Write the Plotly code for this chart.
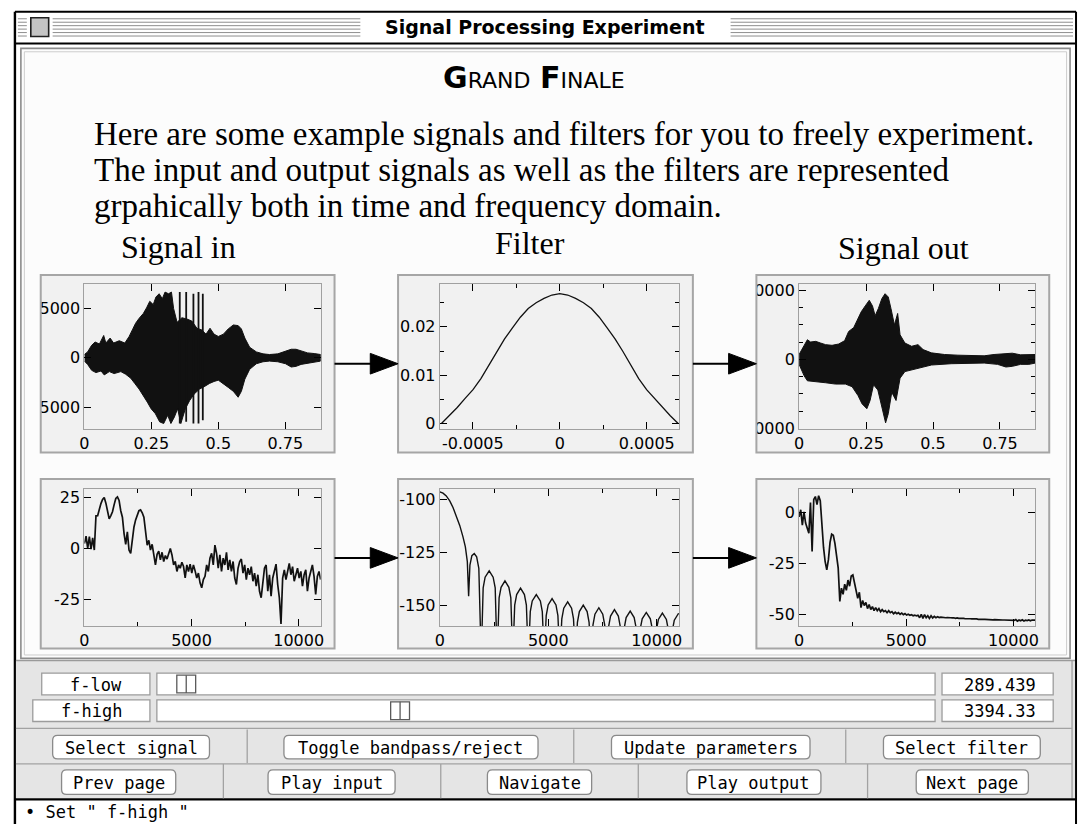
import plotly.graph_objects as go

W, H = 1082, 833

# ---------------------------------------------------------------- data
# Input signal, time domain: upper and lower envelope of the waveform
in_up_t = [0.000, 0.012, 0.027, 0.040, 0.056, 0.072, 0.080, 0.096, 0.109, 0.130,
           0.151, 0.167, 0.179, 0.191, 0.204, 0.220, 0.232, 0.244, 0.257, 0.267,
           0.279, 0.291, 0.301, 0.314, 0.325, 0.333, 0.346, 0.364, 0.383, 0.401,
           0.420, 0.438, 0.454, 0.469, 0.484, 0.500, 0.519, 0.537, 0.556, 0.574,
           0.586, 0.599, 0.617, 0.642, 0.667, 0.691, 0.722, 0.751, 0.772, 0.790,
           0.809, 0.833, 0.858, 0.882]
in_up_v = [333, 600, 1267, 1600, 1400, 2267, 1500, 2000, 1500, 1733,
           1500, 2167, 2833, 3500, 4000, 4500, 5067, 5733, 5400, 6167,
           6500, 6000, 6667, 6500, 6667, 5000, 3600, 4067, 3933, 3733,
           3000, 2833, 2400, 3000, 2400, 2167, 2400, 2933, 3333, 3267,
           2933, 2000, 1067, 600, 400, 333, 400, 667, 867, 867,
           733, 500, 433, 333]
in_lo_t = [0.000, 0.012, 0.027, 0.043, 0.062, 0.074, 0.093, 0.111, 0.136, 0.154,
           0.173, 0.188, 0.204, 0.220, 0.235, 0.249, 0.265, 0.281, 0.296, 0.311,
           0.323, 0.336, 0.348, 0.360, 0.377, 0.393, 0.410, 0.430, 0.447, 0.467,
           0.484, 0.500, 0.519, 0.537, 0.556, 0.574, 0.586, 0.599, 0.617, 0.642,
           0.667, 0.691, 0.722, 0.751, 0.772, 0.790, 0.809, 0.833, 0.858, 0.882]
in_lo_v = [-333, -667, -1267, -1500, -1333, -1733, -1400, -1600, -1400, -1667,
           -2067, -2600, -3167, -3833, -4500, -5167, -5667, -6500, -6667, -5833,
           -6667, -6000, -5167, -6667, -5167, -4333, -3667, -3167, -2933, -2600,
           -2400, -2267, -2600, -3000, -3400, -4000, -3400, -2167, -1167, -600,
           -400, -333, -400, -600, -933, -867, -667, -500, -433, -333]
# isolated full-scale swings in the input
in_spike_t = [0.356, 0.380, 0.407, 0.426, 0.442]
in_spike_hi = [6667, 6667, 6500, 6667, 6500]
in_spike_lo = [-6667, -6500, -6667, -6667, -6333]

# Output signal, time domain envelope
out_up_t = [0.000, 0.019, 0.031, 0.043, 0.062, 0.080, 0.099, 0.123, 0.148, 0.170,
            0.185, 0.204, 0.220, 0.232, 0.247, 0.262, 0.274, 0.284, 0.296, 0.309,
            0.321, 0.333, 0.343, 0.356, 0.368, 0.377, 0.395, 0.420, 0.444, 0.463,
            0.494, 0.543, 0.593, 0.642, 0.691, 0.728, 0.765, 0.796, 0.827, 0.858,
            0.882]
out_up_v = [714, 2143, 2857, 2524, 2619, 2381, 2143, 2048, 2238, 2714,
            4048, 4619, 5952, 6905, 7762, 8571, 7762, 6333, 7381, 8810,
            9524, 9048, 7381, 5000, 6667, 3571, 2381, 1905, 2143, 1429,
            952, 714, 619, 524, 524, 714, 857, 905, 667, 714,
            714]
out_lo_t = [0.000, 0.019, 0.031, 0.062, 0.099, 0.136, 0.173, 0.198, 0.220, 0.235,
            0.253, 0.265, 0.278, 0.294, 0.311, 0.323, 0.333, 0.346, 0.362, 0.377,
            0.395, 0.444, 0.494, 0.568, 0.642, 0.691, 0.741, 0.772, 0.796, 0.827,
            0.858, 0.882]
out_lo_v = [-714, -2381, -3095, -3190, -3381, -3571, -3571, -3952, -5238, -6429,
            -7143, -5952, -3667, -4429, -7286, -9190, -7857, -4762, -5952, -2714,
            -1762, -1286, -810, -619, -524, -524, -714, -1095, -1000, -714,
            -714, -524]

# Filter impulse response: 31 taps at 22050 Hz
sample_rate = 22050
filter_taps = [0.0000, 0.0016, 0.0033, 0.0052, 0.0070, 0.0093, 0.0120, 0.0149,
               0.0175, 0.0198, 0.0220, 0.0238, 0.0250, 0.0259, 0.0266, 0.0269,
               0.0266, 0.0259, 0.0250, 0.0238, 0.0220, 0.0198, 0.0175, 0.0149,
               0.0120, 0.0093, 0.0070, 0.0052, 0.0033, 0.0016, 0.0000]

# Input spectrum (dB), uniform bins from 0 to 11025 Hz
in_spec_db = [2.4, 6.0, 0.0, 5.8, -0.3, 5.2, -0.8, 16.0, 16.1, 19.5,
              22.0, 24.0, 25.0, 22.2, 18.0, 14.5, 16.1, 18.0, 21.5, 24.5,
              25.3, 23.5, 18.5, 15.3, 7.3, 2.0, 8.1, -0.8, -2.4, 5.6,
              10.5, 14.0, 16.5, 18.5, 18.9, 17.5, 15.3, 8.1, 1.6, 4.0,
              -0.8, 2.0, -3.2, -8.1, -2.9, -1.3, -5.6, -1.9, -6.4, -3.5,
              -5.2, -1.9, 0.0, -3.2, -8.1, -6.4, -11.3, -8.1, -9.7, -6.8,
              -8.9, -14.5, -8.1, -11.3, -7.7, -12.1, -8.1, -11.0, -14.5, -12.1,
              -16.9, -19.3, -15.3, -13.7, -8.1, -11.3, -4.8, -2.4, -8.1, 1.6,
              -2.4, -9.7, -3.2, -11.3, -4.8, -8.1, -1.9, -10.5, -5.6, -11.3,
              -6.4, -14.5, -17.7, -9.7, -6.4, -5.2, -12.1, -8.1, -15.3, -9.7,
              -12.9, -8.9, -16.1, -12.1, -18.5, -12.9, -21.0, -24.2, -16.1, -9.7,
              -8.1, -21.0, -12.9, -23.4, -14.5, -11.3, -7.7, -17.7, -24.2, -37.0,
              -14.5, -10.5, -15.3, -11.3, -7.3, -12.9, -8.9, -16.1, -12.1, -9.7,
              -14.5, -11.3, -18.5, -12.9, -10.5, -21.0, -14.5, -11.3, -8.1, -13.7,
              -22.6, -13.7, -11.3, -15.3]

# Filter magnitude response (Hz, dB)
filt_spec_f = [0, 150, 300, 460, 610, 765, 920, 1070, 1180, 1270, 1330, 1390, 1480,
               1590, 1700, 1800, 1911,
               2000, 2090, 2278, 2460, 2555, 2645,
               2735, 2825, 3005, 3185, 3275, 3364,
               3454, 3544, 3723, 3902, 3992, 4082,
               4172, 4262, 4449, 4636, 4726, 4816,
               4906, 4996, 5176, 5356, 5445, 5535,
               5625, 5715, 5895, 6075, 6164, 6254,
               6344, 6434, 6613, 6792, 6882, 6972,
               7062, 7152, 7332, 7512, 7601, 7691,
               7781, 7871, 8051, 8231, 8320, 8410,
               8500, 8590, 8777, 8960, 9053, 9143,
               9233, 9330, 9518, 9705, 9800, 9893,
               9983, 10075, 10260, 10445, 10537, 10627,
               10717, 10810, 10993, 11025]
filt_spec_db = [-96.6, -97.2, -98.5, -100.8, -103.9, -107.7, -112.3, -117.7, -122.4,
                -129.3, -145.5, -130.9, -126.5, -125.5, -127.0, -132.4, -175,
                -141.6, -136.6, -133.6, -136.6, -141.6, -175,
                -146.3, -141.3, -138.3, -141.3, -146.3, -175,
                -149.7, -144.7, -141.7, -144.7, -149.7, -175,
                -152.7, -147.7, -144.7, -147.7, -152.7, -175,
                -154.6, -149.6, -146.6, -149.6, -154.6, -175,
                -156.1, -151.1, -148.1, -151.1, -156.1, -175,
                -157.7, -152.7, -149.7, -152.7, -157.7, -175,
                -158.9, -153.9, -150.9, -153.9, -158.9, -175,
                -159.8, -154.8, -151.8, -154.8, -159.8, -175,
                -160.5, -155.5, -152.5, -155.5, -160.5, -175,
                -161.1, -156.1, -153.1, -156.1, -161.1, -175,
                -161.4, -156.4, -153.4, -156.4, -161.4, -175,
                -161.7, -156.7, -153.7, -153.8]

# Output spectrum (dB), uniform bins from 0 to 11025 Hz
out_spec_db = [-2.0, 1.5, -6.0, 0.5, -5.0, -8.0, -10.0, 5.0, -19.0, 6.5,
               8.0, 4.0, 8.4, 6.0, -6.0, -17.0, -24.0, -28.0, -23.0, -14.5,
               -10.5, -11.0, -15.0, -21.0, -27.0, -43.5, -37.0, -40.0, -35.0, -38.0,
               -33.0, -36.0, -31.0, -30.5, -34.0, -38.0, -42.0, -39.0, -46.5, -43.0,
               -45.5, -44.0, -47.0, -45.0, -47.5, -46.0, -48.0, -46.5, -48.0, -47.0,
               -48.5, -47.5, -48.5, -48.0, -49.0, -48.0, -49.0, -48.5, -49.5, -48.8,
               -49.5, -49.0, -49.8, -49.2, -50.0, -49.5, -50.2, -49.8, -50.3, -50.0,
               -50.5, -50.2, -50.6, -50.3, -51.5, -49.8, -51.8, -50.0, -51.5, -50.5,
               -51.8, -50.5, -51.6, -50.8, -51.5, -51.0, -51.4, -51.2, -51.4, -51.3,
               -51.5, -51.4, -51.6, -51.5, -51.6, -51.5, -51.8, -51.6, -51.8, -51.7,
               -51.9, -51.8, -52.0, -51.9, -52.0, -52.0,
               -52.1, -52.0, -52.2, -52.1, -52.3, -52.2, -52.2, -52.3, -52.3, -52.4,
               -52.3, -52.4, -52.4, -52.5, -52.4, -52.5, -52.5, -52.6, -52.5, -52.6,
               -52.6, -52.6, -52.7, -52.6, -52.7, -52.7, -52.8, -52.4, -53.2, -52.6,
               -53.0, -52.5, -53.1, -52.7, -52.9, -52.6, -53.0, -52.6, -52.8, -52.7]
nyquist = 11025

# Text content
window_title = "Signal Processing Experiment"
paragraph = ["Here are some example signals and filters for you to freely experiment.",
             "The input and output signals as well as the filters are represented",
             "grpahically both in time and frequency domain."]
column_titles = ["Signal in", "Filter", "Signal out"]

# slider settings
slider_names = ["f-low", "f-high"]
slider_values = [289.439, 3394.33]
slider_min, slider_max = 0, 11025

button_rows = [["Select signal", "Toggle bandpass/reject", "Update parameters", "Select filter"],
               ["Prev page", "Play input", "Navigate", "Play output", "Next page"]]
status_text = "\u2022 Set \" f-high \""

# ---------------------------------------------------------------- styling
CONTENT_BG = "#fcfcfc"
PANEL_BG = "#f1f1f1"
PANEL_LINE = "#a6a6a6"
FRAME_LINE = "#a0a0a0"
CTRL_BG = "#e5e5e5"
MONO = "DejaVu Sans Mono"
SERIF = "Liberation Serif"

shapes = []
annotations = []


def fx(x):
    return x / W


def fy(y):
    return 1 - y / H


def rect(x0, y0, x1, y1, fill=None, line=None, lw=1.0, layer="below"):
    shapes.append(dict(type="rect", xref="paper", yref="paper",
                       x0=fx(x0), x1=fx(x1), y0=fy(y1), y1=fy(y0),
                       fillcolor=fill if fill else "rgba(0,0,0,0)",
                       line=dict(color=line if line else "rgba(0,0,0,0)",
                                 width=lw if line else 0),
                       layer=layer))


def seg(x0, y0, x1, y1, color="#000", lw=1.0, layer="below"):
    shapes.append(dict(type="line", xref="paper", yref="paper",
                       x0=fx(x0), x1=fx(x1), y0=fy(y0), y1=fy(y1),
                       line=dict(color=color, width=lw), layer=layer))


def path(d_parts, fill=None, line=None, lw=1.0, layer="below"):
    shapes.append(dict(type="path", xref="paper", yref="paper", path=d_parts,
                       fillcolor=fill if fill else "rgba(0,0,0,0)",
                       line=dict(color=line if line else "rgba(0,0,0,0)",
                                 width=lw if line else 0),
                       layer=layer))


def P(x, y):
    return f"{fx(x):.6f},{fy(y):.6f}"


def round_rect(x0, y0, x1, y1, r, fill, line, lw=1.0):
    d = (f"M {P(x0 + r, y0)} L {P(x1 - r, y0)} Q {P(x1, y0)} {P(x1, y0 + r)} "
         f"L {P(x1, y1 - r)} Q {P(x1, y1)} {P(x1 - r, y1)} "
         f"L {P(x0 + r, y1)} Q {P(x0, y1)} {P(x0, y1 - r)} "
         f"L {P(x0, y0 + r)} Q {P(x0, y0)} {P(x0 + r, y0)} Z")
    path(d, fill, line, lw)


def text(x, y, s, size, family, xanchor="center", color="#000"):
    annotations.append(dict(x=fx(x), y=fy(y), xref="paper", yref="paper",
                            text=s, showarrow=False, xanchor=xanchor,
                            yanchor="middle",
                            font=dict(size=size, family=family, color=color)))


# ---------------------------------------------------------------- window chrome
rect(11, 11, 1078, 833, fill="#ffffff")
# title bar stripes
for sy in [16, 19.5, 23, 26.5, 30, 33.5]:
    for a, b in [(13, 22), (48, 358), (731, 1076)]:
        seg(a, sy, b, sy, color="#8e8e8e", lw=1)
# close box
rect(26, 15, 44, 34, fill="#c4c4c4", line="#202020", lw=1.6)
text(544.5, 24, f"<b>{window_title}</b>", 19, "DejaVu Sans")
seg(10, 9, 1079, 9, "#000", 2)
seg(10, 9, 10, 833, "#000", 2.4)
seg(1079, 9, 1079, 833, "#000", 2)
seg(10, 41, 1079, 41, "#000", 2)

# content frame
rect(16, 46, 1073, 665, fill=CONTENT_BG, line="#8c8c8c", lw=1.6)
rect(19.5, 49.5, 1069.5, 661.5, line="#cdcdcd", lw=1)

# headline and introduction
text(533, 76,
     "<b>G</b><span style='font-size:22px'>RAND</span> "
     "<b>F</b><span style='font-size:22px'>INALE</span>",
     30, "DejaVu Sans")
for i, line_txt in enumerate(paragraph):
    text(88, 133 + 36.5 * i, line_txt, 33, SERIF, xanchor="left")
for (cx, cy), title in zip([(175, 248), (529, 244), (905, 249)], column_titles):
    text(cx, cy, title, 32, SERIF)

# ---------------------------------------------------------------- plot panels
panel_cols = [(36, 332), (396, 693), (757, 1052)]
panel_rows = [(276, 456), (483, 655)]
plot_cols = [(80, 318), (438, 679), (800, 1038)]
plot_rows = [(285, 432), (493, 632)]

for (r0, r1) in panel_rows:
    for (c0, c1) in panel_cols:
        rect(c0, r0, c1, r1, fill=PANEL_BG)

# long tick labels run past the panel edge and are cut off there
for (a, b, c, d) in [(20.5, 300, 36, 321), (20.5, 399, 36, 421),
                     (735, 282, 757, 301), (735, 420, 757, 441)]:
    rect(a, b, c, d, fill=CONTENT_BG, layer="above")
for (r0, r1) in panel_rows:
    for (c0, c1) in panel_cols:
        rect(c0, r0, c1, r1, line=PANEL_LINE, lw=2, layer="above")

# signal-flow arrows
for ay in [366, 563]:
    for (x_from, x_to) in [(332, 396), (693, 757)]:
        seg(x_from, ay, x_to - 26, ay, "#000", 2, layer="above")
        path(f"M {P(x_to - 28, ay - 10.5)} L {P(x_to, ay)} L {P(x_to - 28, ay + 10.5)} Z",
             fill="#000", line="#000", lw=1, layer="above")

# ---------------------------------------------------------------- controls
rect(11, 667, 1078, 807, fill=CTRL_BG)
seg(11, 667, 1078, 667, "#9a9a9a", 1.5)
seg(1075, 667, 1075, 807, "#9a9a9a", 1.2)

slider_rows = [(680, 702, 37), (707, 729, 28)]
track_x0, track_x1 = 153, 937
thumb_w = 19
for (y0, y1, lx0), name, val in zip(slider_rows, slider_names, slider_values):
    rect(lx0, y0, 146, y1, fill="#ffffff", line="#9c9c9c", lw=1.3)
    text((lx0 + 146) / 2, (y0 + y1) / 2 + 0.5, name, 17, MONO)
    rect(track_x0, y0, track_x1, y1, fill="#ffffff", line="#9c9c9c", lw=1.3)
    travel0 = track_x0 + thumb_w / 2
    travel1 = track_x1 - thumb_w / 2
    cx = travel0 + (val - slider_min) / (slider_max - slider_min) * (travel1 - travel0)
    rect(cx - thumb_w / 2, y0 + 2, cx + thumb_w / 2, y1 - 2, fill="#ffffff",
         line="#5a5a5a", lw=1.3)
    seg(cx, y0 + 2, cx, y1 - 2, "#5a5a5a", 1.3)
    rect(944, y0, 1056, y1, fill="#ffffff", line="#9c9c9c", lw=1.3)
    text(1041, (y0 + y1) / 2 + 0.5, f"{val:g}", 17, MONO, xanchor="right")

seg(11, 736, 1075, 736, "#a2a2a2", 1.3)
seg(11, 772, 1075, 772, "#a2a2a2", 1.3)
seg(11, 808, 1079, 808, "#000", 2.2)

button_geom = [[(48, 206), (281, 537), (611, 811), (885, 1043)],
               [(57, 172), (265, 393), (486, 591), (687, 822), (918, 1031)]]
button_y = [(743, 767), (778, 803)]
separators = [[244, 573, 847], [220, 439, 638, 869]]
for labels, geom, (by0, by1), seps in zip(button_rows, button_geom, button_y, separators):
    for sx in seps:
        seg(sx, by0 - 6, sx, by1 + 4, "#a2a2a2", 1.3)
    for lab, (bx0, bx1) in zip(labels, geom):
        round_rect(bx0, by0, bx1, by1, 5, "#ffffff", "#8a8a8a", 1.3)
        text((bx0 + bx1) / 2, (by0 + by1) / 2 + 0.5, lab, 17, MONO)

text(18, 821, status_text, 17, MONO, xanchor="left")

# ---------------------------------------------------------------- traces
fig = go.Figure()
BLACK = "#111111"

# input waveform
fig.add_trace(go.Scatter(x=in_up_t + in_lo_t[::-1], y=in_up_v + in_lo_v[::-1],
                         mode="lines", fill="toself", fillcolor=BLACK,
                         line=dict(color=BLACK, width=1), hoverinfo="skip",
                         xaxis="x", yaxis="y"))
sx_, sy_ = [], []
for t, hi, lo in zip(in_spike_t, in_spike_hi, in_spike_lo):
    sx_ += [t, t, None]
    sy_ += [hi, lo, None]
fig.add_trace(go.Scatter(x=sx_, y=sy_, mode="lines", line=dict(color=BLACK, width=1.8),
                         hoverinfo="skip", xaxis="x", yaxis="y"))

# filter impulse response
center = (len(filter_taps) - 1) / 2
tap_t = [(n - center) / sample_rate for n in range(len(filter_taps))]
fig.add_trace(go.Scatter(x=tap_t, y=filter_taps, mode="lines",
                         line=dict(color=BLACK, width=1.3), hoverinfo="skip",
                         xaxis="x2", yaxis="y2"))

# output waveform
fig.add_trace(go.Scatter(x=out_up_t + out_lo_t[::-1], y=out_up_v + out_lo_v[::-1],
                         mode="lines", fill="toself", fillcolor=BLACK,
                         line=dict(color=BLACK, width=1), hoverinfo="skip",
                         xaxis="x3", yaxis="y3"))

# spectra
in_f = [i * nyquist / (len(in_spec_db) - 1) for i in range(len(in_spec_db))]
fig.add_trace(go.Scatter(x=in_f, y=in_spec_db, mode="lines",
                         line=dict(color=BLACK, width=1.7), hoverinfo="skip",
                         xaxis="x4", yaxis="y4"))
fig.add_trace(go.Scatter(x=filt_spec_f, y=filt_spec_db, mode="lines",
                         line=dict(color=BLACK, width=1.4), hoverinfo="skip",
                         xaxis="x5", yaxis="y5"))
out_f = [i * nyquist / (len(out_spec_db) - 1) for i in range(len(out_spec_db))]
fig.add_trace(go.Scatter(x=out_f, y=out_spec_db, mode="lines",
                         line=dict(color=BLACK, width=1.7), hoverinfo="skip",
                         xaxis="x6", yaxis="y6"))

# ---------------------------------------------------------------- axes
time_ticks = [0, 0.25, 0.5, 0.75]
time_labels = ["0", "0.25", "0.5", "0.75"]
freq_ticks = [0, 5000, 10000]
freq_labels = ["0", "5000", "10000"]
freq_minor = [2500, 7500]

axis_specs = [
    # x range, x ticks, x labels, x minor, y range, y ticks, y labels, y minor
    ([0, 0.882], time_ticks, time_labels, None,
     [-7200, 7500], [-5000, 0, 5000], ["-5000", "0", "5000"], None),
    ([-0.00069, 0.000685], [-0.0005, 0, 0.0005], ["-0.0005", "0", "0.0005"], [-0.00025, 0.00025],
     [-0.0011, 0.0289], [0, 0.01, 0.02], ["0", "0.01", "0.02"], [0.005, 0.015, 0.025]),
    ([0, 0.882], time_ticks, time_labels, None,
     [-10050, 10950], [-10000, 0, 10000], ["-10000", "0", "10000"],
     [-7500, -5000, -2500, 2500, 5000, 7500]),
    ([0, nyquist], freq_ticks, freq_labels, freq_minor,
     [-38, 29.2], [-25, 0, 25], ["-25", "0", "25"], None),
    ([0, nyquist], freq_ticks, freq_labels, freq_minor,
     [-159.4, -95.2], [-150, -125, -100], ["-150", "-125", "-100"], None),
    ([0, nyquist], freq_ticks, freq_labels, freq_minor,
     [-55.5, 11.75], [-50, -25, 0], ["-50", "-25", "0"], None),
]


def base_axis():
    return dict(showline=True, linecolor=FRAME_LINE, linewidth=1, mirror="ticks",
                ticks="inside", ticklen=7, tickwidth=1.3, tickcolor="#000",
                showgrid=False, zeroline=False, fixedrange=True, tickmode="array",
                tickfont=dict(family="DejaVu Sans", size=16, color="#000"))


def minor_ticks(vals):
    return dict(tickvals=vals, ticks="inside", ticklen=4, tickwidth=1.2,
                tickcolor="#000", showgrid=False)


layout_axes = {}
for idx, spec in enumerate(axis_specs):
    xr, xt, xl, xm, yr, yt, yl, ym = spec
    row, col = divmod(idx, 3)
    c0, c1 = plot_cols[col]
    r0, r1 = plot_rows[row]
    suf = "" if idx == 0 else str(idx + 1)
    xa = base_axis()
    xa.update(domain=[fx(c0), fx(c1)], range=xr, anchor="y" + suf,
              tickvals=xt, ticktext=xl)
    if xm:
        xa["minor"] = minor_ticks(xm)
    ya = base_axis()
    ya.update(domain=[fy(r1), fy(r0)], range=yr, anchor="x" + suf,
              tickvals=yt, ticktext=yl)
    if ym:
        ya["minor"] = minor_ticks(ym)
    layout_axes["xaxis" + suf] = xa
    layout_axes["yaxis" + suf] = ya

fig.update_layout(width=W, height=H, margin=dict(l=0, r=0, t=0, b=0),
                  paper_bgcolor="#ffffff", plot_bgcolor="#ffffff",
                  showlegend=False, shapes=shapes, annotations=annotations,
                  **layout_axes)

fig.write_html("out.html")
